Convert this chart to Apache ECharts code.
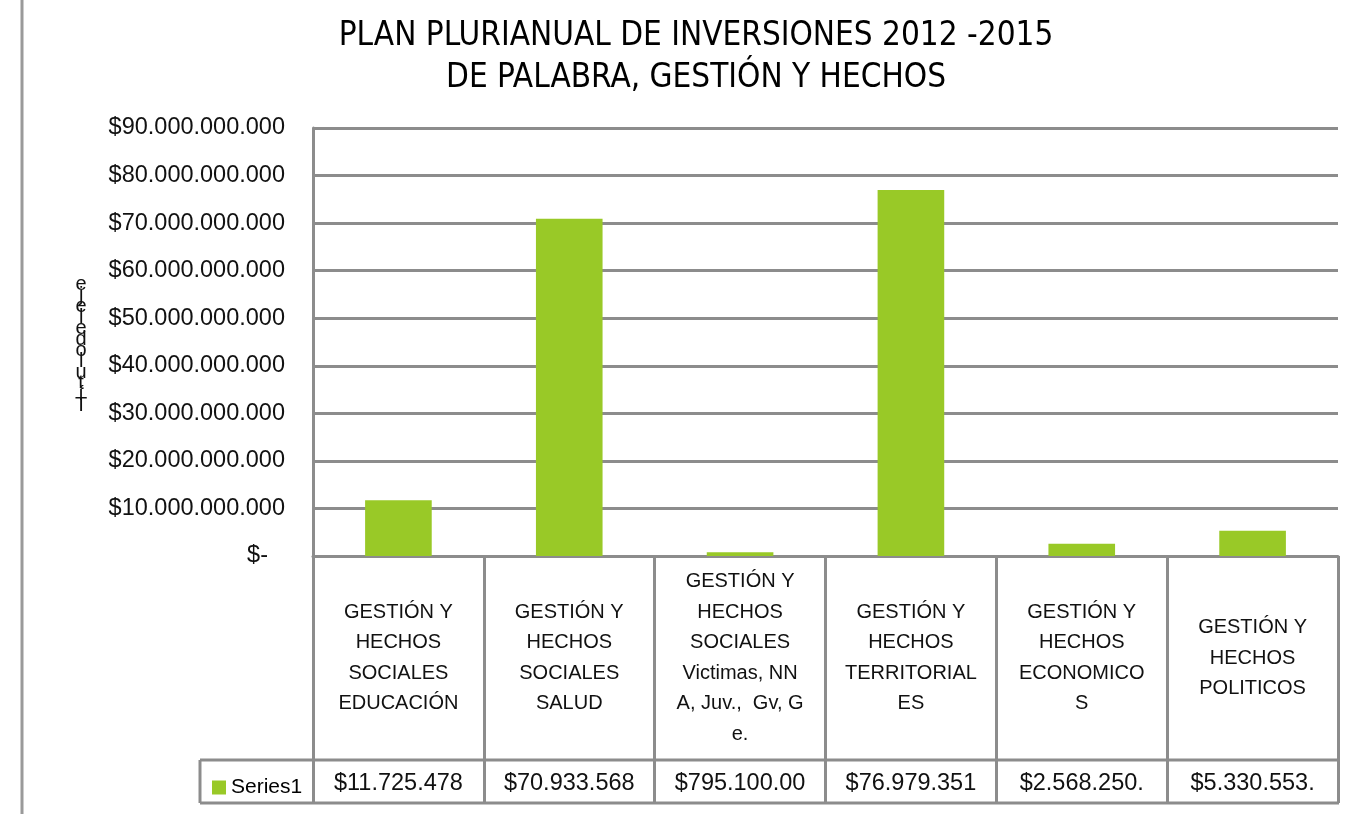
<!DOCTYPE html>
<html>
<head>
<meta charset="utf-8">
<script src="https://cdn.jsdelivr.net/npm/echarts@6/dist/echarts.min.js"></script>
<style>
  html, body { margin: 0; padding: 0; background: #fff; }
  #chart { width: 1361px; height: 814px; }
</style>
</head>
<body>
<div id="chart"></div>
<script>
var categories = [
  'GESTIÓN Y\nHECHOS\nSOCIALES\nEDUCACIÓN',
  'GESTIÓN Y\nHECHOS\nSOCIALES\nSALUD',
  'GESTIÓN Y\nHECHOS\nSOCIALES\nVictimas, NN\nA, Juv.,  Gv, G\ne.',
  'GESTIÓN Y\nHECHOS\nTERRITORIAL\nES',
  'GESTIÓN Y\nHECHOS\nECONOMICO\nS',
  'GESTIÓN Y\nHECHOS\nPOLITICOS'
]
var values = [11725478000, 70933568000, 795100000, 76979351000, 2568250000, 5330553000]
var yTicks = [0, 10e9, 20e9, 30e9, 40e9, 50e9, 60e9, 70e9, 80e9, 90e9]
var seriesName = 'Series1'
var titleLines = ['PLAN PLURIANUAL DE INVERSIONES 2012 -2015', 'DE PALABRA, GESTIÓN Y HECHOS']
var axisTitle = 'Título del eje'

var FONT = "'Liberation Sans', Arial, sans-serif"
var NARROW = "'Liberation Sans Narrow', 'DejaVu Sans Condensed', sans-serif"
var GRAY = '#8c8c8c'
var W = 1361, H = 814
var gLeft = 313, gRight = 1338, gTop = 128, gBottom = 556
var rowTop = 760, tableBottom = 803, legendLeft = 200

function money(v) {
  if (v === 0) return '$-'
  return '$' + String(Math.round(v)).replace(/\B(?=(\d{3})+(?!\d))/g, '.')
}
// the data table cells clip the text, as in the sheet
var tableLabels = values.map(function (v) { return money(v).slice(0, 11) })

// the axis title is drawn one letter under the other, reversed
var stacked = axisTitle.replace(/ /g, '').split('').reverse().join('\n')

var chart = echarts.init(document.getElementById('chart'))
chart.setOption({
  animation: false,
  title: {
    text: titleLines.join('\n'),
    left: 691,
    textAlign: 'center',
    top: 10,
    textStyle: { fontFamily: NARROW, fontSize: 33, fontWeight: 'normal', color: '#000', lineHeight: 42 }
  },
  legend: {
    data: [seriesName],
    left: 207,
    top: 772,
    icon: 'rect',
    itemWidth: 14,
    itemHeight: 14,
    textStyle: { fontFamily: FONT, fontSize: 21, color: '#000' }
  },
  grid: {
    left: gLeft,
    right: W - gRight,
    top: gTop,
    bottom: H - gBottom
  },
  xAxis: [
    {
      type: 'category',
      data: categories,
      axisLine: { lineStyle: { color: GRAY, width: 3 } },
      axisTick: { show: true, length: tableBottom - gBottom, lineStyle: { color: GRAY, width: 3 } },
      axisLabel: {
        interval: 0,
        margin: 102,
        verticalAlign: 'middle',
        fontFamily: FONT,
        fontSize: 20,
        lineHeight: 30.5,
        color: '#111',
        align: 'center'
      }
    },
    {
      type: 'category',
      data: tableLabels,
      position: 'bottom',
      axisLine: { show: false },
      axisTick: { show: false },
      axisLabel: {
        interval: 0,
        margin: 228,
        verticalAlign: 'middle',
        fontFamily: FONT,
        fontSize: 23.5,
        color: '#111'
      }
    }
  ],
  yAxis: {
    type: 'value',
    min: yTicks[0],
    max: yTicks[yTicks.length - 1],
    interval: yTicks[1] - yTicks[0],
    axisLine: { show: true, lineStyle: { color: GRAY, width: 3 } },
    axisTick: { show: false },
    splitLine: { lineStyle: { color: GRAY, width: 3 } },
    axisLabel: {
      margin: 28,
      fontFamily: FONT,
      fontSize: 23.5,
      color: '#111',
      formatter: function (v) {
        return v === 0 ? '{z|' + money(v) + '}' : money(v)
      },
      rich: {
        z: { fontFamily: FONT, fontSize: 23.5, color: '#111', padding: [0, 17, 0, 0] }
      }
    }
  },
  series: [
    {
      name: seriesName,
      type: 'bar',
      data: values,
      barWidth: '39%',
      itemStyle: { color: '#99c927' }
    }
  ],
  graphic: [
    { type: 'line', shape: { x1: 22, y1: 0, x2: 22, y2: H }, style: { stroke: '#9a9a9a', lineWidth: 3 } },
    { type: 'line', shape: { x1: legendLeft, y1: rowTop, x2: gRight + 1, y2: rowTop }, style: { stroke: GRAY, lineWidth: 3 } },
    { type: 'line', shape: { x1: legendLeft, y1: tableBottom, x2: gRight + 1, y2: tableBottom }, style: { stroke: GRAY, lineWidth: 3 } },
    { type: 'line', shape: { x1: legendLeft, y1: rowTop, x2: legendLeft, y2: tableBottom }, style: { stroke: GRAY, lineWidth: 3 } },
    {
      type: 'text',
      left: 75,
      top: 274,
      style: { text: stacked, font: '20px ' + FONT, lineHeight: 11, fill: '#111', textAlign: 'center' }
    }
  ]
})
</script>
</body>
</html>
